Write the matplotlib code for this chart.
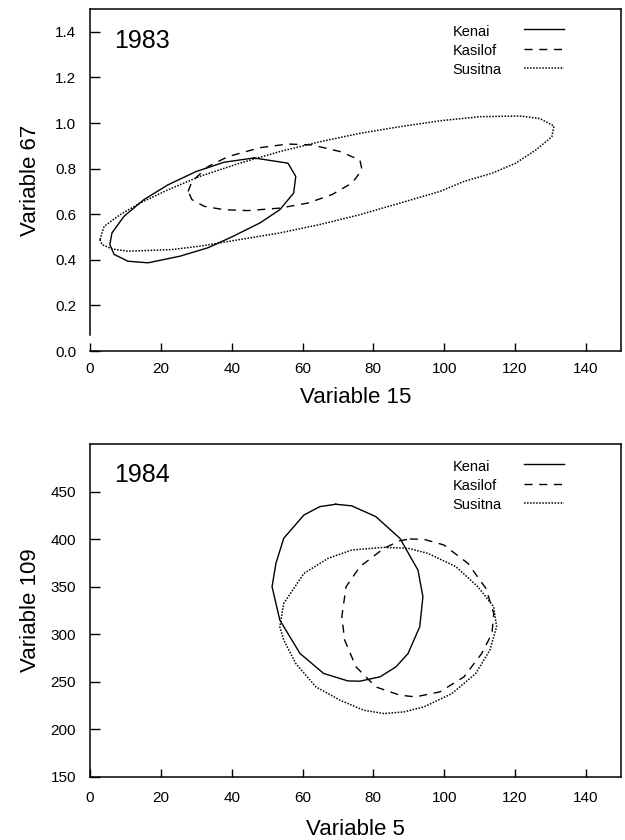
import matplotlib
matplotlib.use("Agg")
import matplotlib.pyplot as plt

plt.rcParams['font.family'] = ['Liberation Sans', 'DejaVu Sans']

groups = ["Kenai", "Kasilof", "Susitna"]
styles = ["-", (0, (5.8, 4.8)), (0, (1, 1))]
widths = [1.0, 1.0, 1.1]

# 1983 : Variable 15 (x) vs Variable 67 (y) -- ellipse outlines
kenai83_x = [46.3, 55.9, 58.1, 57.5, 53.6, 48.0, 40.1, 33.3, 25.4, 16.4, 10.7, 6.8, 5.6, 6.2, 9.6, 15.2, 22.0, 29.9, 37.8, 46.3]
kenai83_y = [0.847, 0.824, 0.766, 0.693, 0.620, 0.562, 0.501, 0.453, 0.416, 0.387, 0.394, 0.424, 0.467, 0.518, 0.591, 0.664, 0.729, 0.787, 0.828, 0.847]
kasilof83_x = [27.7, 28.8, 33.3, 39.0, 48.0, 55.9, 62.7, 70.6, 76.2, 76.8, 74.0, 68.3, 61.5, 53.6, 44.6, 37.8, 32.2, 28.8, 27.7]
kasilof83_y = [0.700, 0.744, 0.809, 0.853, 0.892, 0.908, 0.904, 0.875, 0.838, 0.795, 0.737, 0.686, 0.649, 0.627, 0.616, 0.620, 0.635, 0.664, 0.700]
susitna83_x = [2.8, 4.0, 8.5, 14.1, 22.0, 31.0, 42.3, 53.6, 64.9, 76.2, 87.5, 98.8, 110.1, 121.4, 127.0, 131.0, 130.4, 125.9, 120.2, 113.5, 105.6, 98.8, 87.5, 76.2, 64.9, 53.6, 42.3, 31.0, 23.1, 10.7, 6.2, 3.4, 2.8]
susitna83_y = [0.489, 0.547, 0.598, 0.649, 0.707, 0.766, 0.824, 0.875, 0.918, 0.955, 0.984, 1.010, 1.028, 1.031, 1.020, 0.987, 0.940, 0.882, 0.824, 0.780, 0.744, 0.700, 0.649, 0.598, 0.555, 0.518, 0.489, 0.460, 0.445, 0.438, 0.448, 0.467, 0.489]

# 1984 : Variable 5 (x) vs Variable 109 (y)
kenai84_x = [69.4, 73.9, 80.7, 87.5, 92.6, 94.0, 93.1, 89.8, 86.4, 81.9, 76.2, 72.8, 66.0, 59.3, 53.6, 51.4, 52.5, 54.7, 60.4, 64.9, 69.4]
kenai84_y = [436.7, 435.0, 423.7, 400.9, 367.5, 339.5, 307.9, 279.8, 265.8, 255.3, 250.7, 251.0, 258.8, 279.8, 314.9, 350.0, 374.6, 400.9, 425.4, 434.2, 436.7]
kasilof84_x = [90.3, 94.3, 99.9, 106.7, 111.8, 114.0, 113.5, 110.6, 105.6, 98.8, 91.9, 87.5, 80.7, 75.1, 71.9, 71.1, 72.3, 76.2, 83.0, 87.5, 90.3]
kasilof84_y = [400.2, 399.8, 393.9, 374.6, 348.2, 321.9, 300.9, 279.8, 255.3, 239.5, 234.2, 236.0, 244.7, 265.8, 293.9, 318.4, 350.0, 371.0, 390.4, 398.4, 400.2]
susitna84_x = [83.0, 89.8, 95.4, 103.3, 109.5, 114.0, 114.8, 112.9, 108.9, 102.2, 94.3, 88.6, 83.0, 77.3, 70.6, 63.8, 58.1, 54.7, 53.6, 54.7, 60.4, 67.2, 73.9, 83.0]
susitna84_y = [391.4, 390.4, 385.1, 371.1, 350.0, 328.9, 307.9, 283.3, 258.8, 237.7, 223.7, 218.4, 216.7, 220.2, 230.7, 244.7, 269.3, 293.9, 307.9, 332.5, 364.0, 379.8, 388.6, 391.4]

x_ticks = [0, 20, 40, 60, 80, 100, 120, 140]
y_ticks_83 = [0.0, 0.2, 0.4, 0.6, 0.8, 1.0, 1.2, 1.4]
y_tick_labels_83 = ["0.0", "0.2", "0.4", "0.6", "0.8", "1.0", "1.2", "1.4"]
y_ticks_84 = [150, 200, 250, 300, 350, 400, 450]

W, H, DPI = 6.25, 8.4, 100
fig = plt.figure(figsize=(W, H), dpi=DPI)
pos1 = [0.144, 0.5821, 0.85, 0.4071]
pos2 = [0.144, 0.075, 0.85, 0.3964]
ax1 = fig.add_axes(pos1)
ax2 = fig.add_axes(pos2)

panels = [
    (ax1, pos1, "1983", "Variable 15", "Variable 67",
     [(kenai83_x, kenai83_y), (kasilof83_x, kasilof83_y), (susitna83_x, susitna83_y)],
     (0, 1.5), y_ticks_83, y_tick_labels_83, 8, 8),
    (ax2, pos2, "1984", "Variable 5", "Variable 109",
     [(kenai84_x, kenai84_y), (kasilof84_x, kasilof84_y), (susitna84_x, susitna84_y)],
     (150, 500), y_ticks_84, [str(v) for v in y_ticks_84], 9.8, 10.2),
]

text_off = [23.0, 41.8, 61.2]   # legend row offsets below the top spine, pixels
line_off = [20.3, 40.3, 58.5]

for ax, pos, year, xl, yl, series, ylim, yt, ytl, xpad, xlpad in panels:
    for (xs, ys), name, ls, lw in zip(series, groups, styles, widths):
        ax.plot(xs, ys, color="black", lw=lw, linestyle=ls)
    ax.set_xlim(0, 150)
    ax.set_ylim(*ylim)
    ax.set_xticks(x_ticks)
    ax.set_yticks(yt)
    ax.set_yticklabels(ytl)
    ax.tick_params(axis="x", direction="in", length=5.5, width=1.0, labelsize=11, pad=xpad)
    ax.tick_params(axis="y", direction="in", length=7, width=1.0, labelsize=11, pad=10)
    for sp in ax.spines.values():
        sp.set_linewidth(1.1)
    ax.set_xlabel(xl, fontsize=16, labelpad=xlpad)
    ax.set_ylabel(yl, fontsize=16)
    ax.yaxis.set_label_coords(-0.093, 0.5)
    ax.text(0.045, 0.908, year, transform=ax.transAxes, fontsize=18, va="center", ha="left")
    # legend: label first, line sample after it
    hpx = pos[3] * H * DPI
    for i, (name, ls, lw) in enumerate(zip(groups, styles, widths)):
        ty = 1 - text_off[i] / hpx
        ly = 1 - line_off[i] / hpx
        ax.text(0.682, ty, name, transform=ax.transAxes, fontsize=10.5, va="center", ha="left")
        ax.plot([0.817, 0.893], [ly, ly], transform=ax.transAxes, color="black", lw=lw,
                linestyle=ls, clip_on=False)

ax1.spines["left"].set_bounds(0.07, 1.5)

fig.savefig("out.png", dpi=DPI)
